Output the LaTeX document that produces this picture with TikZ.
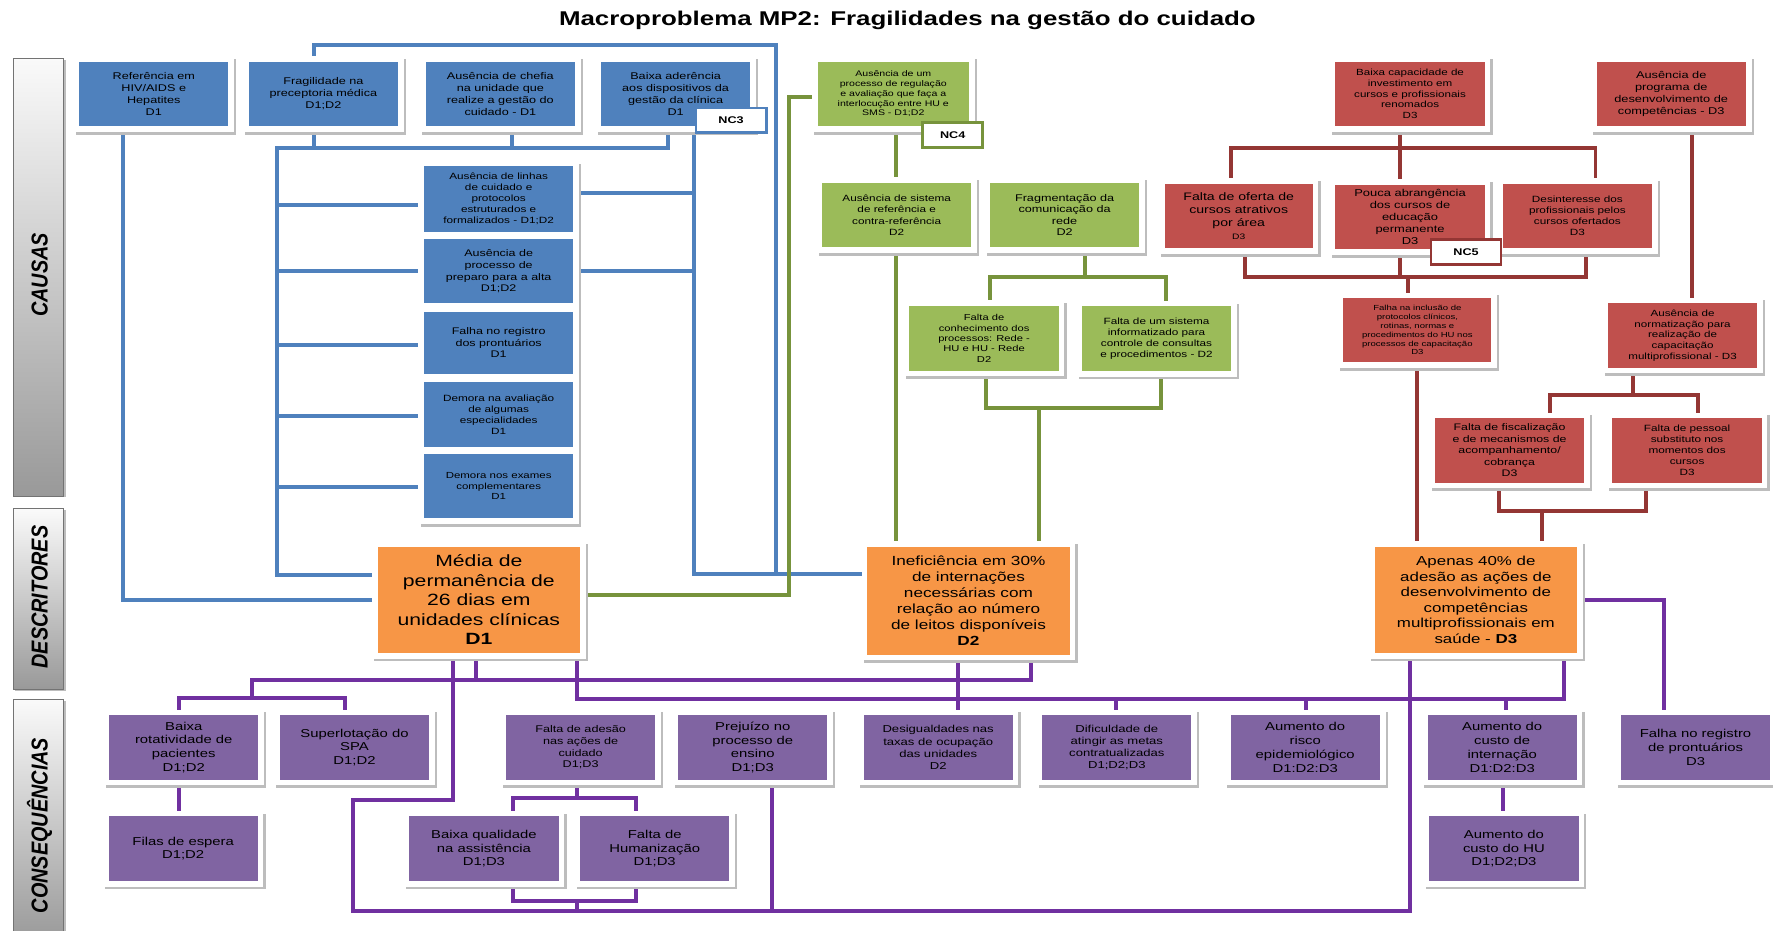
\documentclass[tikz,border=0pt]{standalone}
\usepackage{fontspec}
\setmainfont{Liberation Sans}[FakeStretch=1.3]
\newfontfamily\sidefont{Liberation Sans}[FakeStretch=0.86]
\usetikzlibrary{backgrounds}
\newcommand\fs[2]{\fontsize{#1}{#2}\selectfont}

\definecolor{bfill}{HTML}{4F81BD}
\definecolor{bline}{HTML}{4F81BD}
\definecolor{gfill}{HTML}{9BBB59}
\definecolor{gline}{HTML}{77933C}
\definecolor{rfill}{HTML}{C0504D}
\definecolor{rline}{HTML}{943634}
\definecolor{pfill}{HTML}{8064A2}
\definecolor{pline}{HTML}{7030A0}
\definecolor{ofill}{HTML}{F79646}
\definecolor{framegray}{HTML}{BDBDBD}

\tikzset{
  fr/.style={rectangle, inner sep=0pt, align=center, text=black, draw=white, line width=5pt,
    minimum width=137pt, minimum height=62pt,
    preaction={draw=framegray, fill=framegray, line width=5pt,
      transform canvas={xshift=2pt, yshift=-2.5pt}}},
  bx/.style={fr, fill=bfill},
  gx/.style={fr, fill=gfill},
  rx/.style={fr, fill=rfill},
  px/.style={fr, fill=pfill, font=\fs{10.1}{12.2}},
  ox/.style={fr, fill=ofill, minimum width=184pt, minimum height=99pt},
  tag/.style={rectangle, fill=white, draw=#1, line width=2.5pt, inner sep=0pt,
    minimum width=62pt, minimum height=22pt, font=\fs{8.6}{10}\bfseries},
  sidebox/.style={rectangle, draw=black!55, line width=0.8pt, top color=black!2,
    bottom color=black!40, minimum width=45pt,
    preaction={fill=framegray, transform canvas={xshift=2pt, yshift=-1pt}}},
  sidetext/.style={rotate=90, font=\sidefont\fs{20.4}{24}\bfseries\itshape},
  link/.style={line width=3.5pt},
  bl/.style={link, draw=bline},
  gl/.style={link, draw=gline},
  rl/.style={link, draw=rline},
  pl/.style={link, draw=pline},
}

\begin{document}
\begin{tikzpicture}[x=1pt, y=-1pt]
\useasboundingbox (0,0) rectangle (1568,823);

% title
\node[font=\fs{17.6}{20}\bfseries] (title) at (802.5,17.7)
  {Macroproblema MP2: Fragilidades na gestão do cuidado};

% row labels
\node[sidebox, minimum height=387pt] (causas) at (34,245.3) {};
\node[sidetext] (causaslbl) at (35,243) {CAUSAS};
\node[sidebox, minimum height=160pt] (descr) at (34,530) {};
\node[sidetext] (descrlbl) at (35,528) {DESCRITORES};
\node[sidebox, minimum height=214pt] (conseq) at (34,726) {};
\node[sidetext] (conseqlbl) at (35,730) {CONSEQUÊNCIAS};

% blue causes
\node[bx, font=\fs{8.6}{10.5}] (b1) at (136,83) {Referência em\\HIV/AIDS e\\Hepatites\\D1};
\node[bx, font=\fs{8.6}{10.5}] (b2) at (286,83) {Fragilidade na\\preceptoria médica\\D1;D2};
\node[bx, font=\fs{8.6}{10.5}] (b3) at (442.5,83) {Ausência de chefia\\na unidade que\\realize a gestão do\\cuidado - D1};
\node[bx, font=\fs{8.6}{10.5}] (b4) at (597.5,83) {Baixa aderência\\aos dispositivos da\\gestão da clínica\\D1};
\node[tag=bline] (nc3) at (646.5,106.5) {NC3};
\node[bx, font=\fs{8}{9.7}, minimum height=62.6pt] (s1) at (441,176) {Ausência de linhas\\de cuidado e\\protocolos\\estruturados e\\formalizados - D1;D2};
\node[bx, font=\fs{8.5}{10.3}, minimum height=61.5pt] (s2) at (441,240) {Ausência de\\processo de\\preparo para a alta\\D1;D2};
\node[bx, font=\fs{8.5}{10.3}, minimum height=60pt] (s3) at (441,303) {Falha no registro\\dos prontuários\\D1};
\node[bx, font=\fs{8}{9.7}] (s4) at (441,366.5) {Demora na avaliação\\de algumas\\especialidades\\D1};
\node[bx, font=\fs{7.8}{9.4}] (s5) at (441,430) {Demora nos exames\\complementares\\D1};

% green causes
\node[gx, font=\fs{7.2}{8.7}, minimum width=139pt] (g1) at (790,83) {Ausência de um\\processo de regulação\\e avaliação que faça a\\interlocução entre HU e\\SMS - D1;D2};
\node[tag=gline, minimum width=53pt] (nc4) at (842.5,119.3) {NC4};
\node[gx, font=\fs{8}{9.8}] (g2) at (793,190.3) {Ausência de sistema\\de referência e\\contra-referência\\D2};
\node[gx, font=\fs{8.6}{10.2}] (g3) at (941.5,190) {Fragmentação da\\comunicação da\\rede\\D2};
\node[gx, font=\fs{7.6}{9.2}] (g4) at (870.3,299.2) {Falta de\\conhecimento dos\\processos: Rede -\\HU e HU - Rede\\D2};
\node[gx, font=\fs{8}{9.7}] (g5) at (1022.8,299.5) {Falta de um sistema\\informatizado para\\controle de consultas\\e procedimentos - D2};

% red causes
\node[rx, font=\fs{7.9}{9.6}] (r1) at (1247,83) {Baixa capacidade de\\investimento em\\cursos e profissionais\\renomados\\D3};
\node[rx, font=\fs{8.7}{10.5}] (r2) at (1478,83) {Ausência de\\programa de\\desenvolvimento de\\competências - D3};
\node[rx, font=\fs{9.6}{11.6}, minimum width=136pt] (r3) at (1095.5,191) {Falta de oferta de\\cursos atrativos\\por área\\{\fs{7}{8.5}D3}};
\node[rx, font=\fs{8.8}{10.6}] (r4) at (1247,192) {Pouca abrangência\\dos cursos de\\educação\\permanente\\D3};
\node[rx, font=\fs{8}{9.7}] (r5) at (1395,191) {Desinteresse dos\\profissionais pelos\\cursos ofertados\\D3};
\node[tag=rline] (nc5) at (1296.5,223) {NC5};
\node[rx, font=\fs{6.5}{7.8}, minimum width=136pt, minimum height=61.4pt] (r6) at (1253.5,292) {Falha na inclusão de\\protocolos clínicos,\\rotinas, normas e\\procedimentos do HU nos\\processos de capacitação\\D3};
\node[rx, font=\fs{7.9}{9.5}] (r7) at (1488,296.7) {Ausência de\\normatização para\\realização de\\capacitação\\multiprofissional - D3};
\node[rx, font=\fs{8.4}{10.2}] (r8) at (1335,398.4) {Falta de fiscalização\\e de mecanismos de\\acompanhamento/\\cobrança\\D3};
\node[rx, font=\fs{8}{9.7}] (r9) at (1492,398.4) {Falta de pessoal\\substituto nos\\momentos dos\\cursos\\D3};

% descriptors
\node[ox, font=\fs{14.4}{17.3}] (d1) at (423.5,530.5) {Média de\\permanência de\\26 dias em\\unidades clínicas\\\textbf{D1}};
\node[ox, font=\fs{11.7}{14}, minimum height=100.5pt] (d2) at (856.5,531.2) {Ineficiência em 30\%\\de internações\\necessárias com\\relação ao número\\de leitos disponíveis\\\textbf{D2}};
\node[ox, font=\fs{11.5}{13.7}] (d3) at (1305.2,530.5) {Apenas 40\% de\\adesão as ações de\\desenvolvimento de\\competências\\multiprofissionais em\\saúde - \textbf{D3}};

% consequences
\node[px] (c1) at (162.5,661) {Baixa\\rotatividade de\\pacientes\\D1;D2};
\node[px] (c2) at (313.5,661) {Superlotação do\\SPA\\D1;D2};
\node[px, font=\fs{8.6}{10.4}] (c3) at (513.5,661) {Falta de adesão\\nas ações de\\cuidado\\D1;D3};
\node[px] (c4) at (665.7,661) {Prejuízo no\\processo de\\ensino\\D1;D3};
\node[px, font=\fs{8.9}{10.7}] (c5) at (829.7,661) {Desigualdades nas\\taxas de ocupação\\das unidades\\D2};
\node[px, font=\fs{8.9}{10.7}] (c6) at (987.7,661) {Dificuldade de\\atingir as metas\\contratualizadas\\D1;D2;D3};
\node[px] (c7) at (1154.3,661) {Aumento do\\risco\\epidemiológico\\D1:D2:D3};
\node[px] (c8) at (1328.5,661) {Aumento do\\custo de\\internação\\D1:D2:D3};
\node[px] (c9) at (1499.5,661) {Falha no registro\\de prontuários\\D3};
\node[px] (c12) at (162,750.5) {Filas de espera\\D1;D2};
\node[px] (c10) at (428,750.5) {Baixa qualidade\\na assistência\\D1;D3};
\node[px] (c11) at (579,750.5) {Falta de\\Humanização\\D1;D3};
\node[px] (c13) at (1330,750.5) {Aumento do\\custo do HU\\D1;D2;D3};

\begin{scope}[on background layer]
  % blue connectors
  \draw[bl] (109,0 |- b1.south) |- (d1.west |- 0,530.6);
  \draw[bl] (277.7,0 |- b2.north) |- (686,40) |- (d2.west |- 0,507.6);
  \draw[bl] (277.7,0 |- b2.south) -- (277.7,131);
  \draw[bl] (453,0 |- b3.south) -- (453,131);
  \draw[bl] (591,0 |- b4.south) |- (245,131) |- (d1.west |- 0,508.5);
  \draw[bl] (245,181) -- (s1.west |- 0,181);
  \draw[bl] (245,0 |- s2.west) -- (s2.west);
  \draw[bl] (245,305) -- (s3.west |- 0,305);
  \draw[bl] (245,367.6) -- (s4.west |- 0,367.6);
  \draw[bl] (245,431) -- (s5.west |- 0,431);
  \draw[bl] (614,0 |- nc3.south) |- (d2.west |- 0,507.6);
  \draw[bl] (s1.east |- 0,171) -- (614,171);
  \draw[bl] (s2.east) -- (614,0 |- s2.east);
  % green connectors
  \draw[gl] (g1.west |- 0,85.5) -| (697.5,526) -- (d1.east |- 0,526);
  \draw[gl] (792,0 |- g1.south) -- (792,0 |- g2.north);
  \draw[gl] (792,0 |- g2.south) -- (792,0 |- d2.north);
  \draw[gl] (959.4,0 |- g3.south) -- (959.4,245);
  \draw[gl] (875.5,0 |- g4.north) |- (1031.5,245) -- (1031.5,0 |- g5.north);
  \draw[gl] (871.8,0 |- g4.south) |- (1027,360.5) -- (1027,0 |- g5.south);
  \draw[gl] (919,360.5) -- (919,0 |- d2.north);
  % red connectors
  \draw[rl] (1238.5,0 |- r1.south) -- (1238.5,0 |- r4.north);
  \draw[rl] (1088.5,0 |- r3.north) |- (1411,131) -- (1411,0 |- r5.north);
  \draw[rl] (1101,0 |- r3.south) |- (1402.5,245) -- (1402.5,0 |- r5.south);
  \draw[rl] (1238.5,0 |- r4.south) -- (1238.5,245);
  \draw[rl] (1245,245) -- (1245,0 |- r6.north);
  \draw[rl] (1496,0 |- r2.south) -- (1496,0 |- r7.north);
  \draw[rl] (1444,0 |- r7.south) -- (1444,349.4);
  \draw[rl] (1371,0 |- r8.north) |- (1501.7,349.4) -- (1501.7,0 |- r9.north);
  \draw[rl] (1326,0 |- r8.south) |- (1455.6,451.6) -- (1455.6,0 |- r9.south);
  \draw[rl] (1363.7,451.6) -- (1363.7,0 |- d3.north);
  \draw[rl] (1253,0 |- r6.south) -- (1253,0 |- d3.north);
  % purple connectors
  \draw[pl] (421,0 |- d1.south) -- (421,601.4);
  \draw[pl] (911.7,0 |- d2.south) |- (223,601.4) -- (223,617.5);
  \draw[pl] (158,0 |- c1.north) |- (305,617.5) -- (305,0 |- c2.north);
  \draw[pl] (510.5,0 |- d1.south) |- (1383,618) -- (1383,0 |- d3.south);
  \draw[pl] (987,618) -- (987,0 |- c6.north);
  \draw[pl] (1155,618) -- (1155,0 |- c7.north);
  \draw[pl] (1332,618) -- (1332,0 |- c8.north);
  \draw[pl] (847.5,0 |- d2.south) -- (847.5,0 |- c5.north);
  \draw[pl] (400.7,0 |- d1.south) |- (312,707.5) |- (1247,806) -- (1247,0 |- d3.south);
  \draw[pl] (682.5,0 |- c4.south) -- (682.5,806);
  \draw[pl] (510.4,0 |- c3.south) -- (510.4,706);
  \draw[pl] (454,0 |- c10.north) |- (562.6,706) -- (562.6,0 |- c11.north);
  \draw[pl] (454,0 |- c10.south) |- (562.6,796.6) -- (562.6,0 |- c11.south);
  \draw[pl] (510,796.6) -- (510,806);
  \draw[pl] (158,0 |- c1.south) -- (158,0 |- c12.north);
  \draw[pl] (1329,0 |- c8.south) -- (1329,0 |- c13.north);
  \draw[pl] (d3.east |- 0,530.6) -| (1472,0 |- c9.north);
\end{scope}
\end{tikzpicture}
\end{document}
